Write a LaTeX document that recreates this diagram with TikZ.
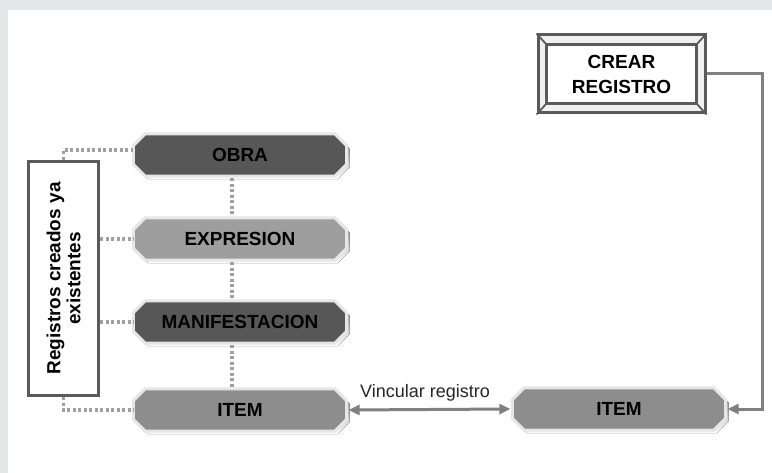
\documentclass[tikz,border=0pt]{standalone}
\usepackage{fontspec}
\setmainfont{Liberation Sans}
\usetikzlibrary{arrows.meta}
\pgfdeclarelayer{back}
\pgfdeclarelayer{bg}
\pgfsetlayers{back,bg,main}
\definecolor{pagebg}{HTML}{E6E7E9}
\definecolor{darkfill}{HTML}{575757}
\definecolor{lightfill}{HTML}{9E9E9E}
\definecolor{itemfill}{HTML}{8D8D8D}
\definecolor{halo}{HTML}{E6E6E6}
\definecolor{shade}{HTML}{B8B8B8}
\definecolor{frameline}{HTML}{5A5A5A}
\definecolor{dotgrey}{HTML}{A0A0A0}
\definecolor{arrowgrey}{HTML}{808080}
\newcommand\octa[2]{%
  \begin{pgfonlayer}{bg}
  \fill[shade] ([shift={(15pt,-3pt)}]#1.north west) -- ([shift={(-9pt,-3pt)}]#1.north east) -- ([shift={(3pt,-15pt)}]#1.north east) -- ([shift={(3pt,9pt)}]#1.south east) -- ([shift={(-9pt,-3pt)}]#1.south east) -- ([shift={(15pt,-3pt)}]#1.south west) -- ([shift={(3pt,9pt)}]#1.south west) -- ([shift={(3pt,-15pt)}]#1.north west) -- cycle;
  \path[fill=#2, draw=halo, line width=3pt, line join=miter]
    ([xshift=12pt]#1.north west) -- ([xshift=-12pt]#1.north east) -- ([yshift=-12pt]#1.north east) -- ([yshift=12pt]#1.south east) -- ([xshift=-12pt]#1.south east) -- ([xshift=12pt]#1.south west) -- ([yshift=12pt]#1.south west) -- ([yshift=-12pt]#1.north west) -- cycle;
  \end{pgfonlayer}}
\tikzset{
  bigtext/.style={font=\bfseries\fontsize{19}{21}\selectfont, text=black},
  octnode/.style={bigtext, minimum width=213pt, minimum height=42pt, inner sep=0pt},
  dotline/.style={draw=dotgrey, line width=3.5pt, dash pattern=on 3pt off 2.5pt},
  greyarrow/.style={draw=arrowgrey, line width=3pt, arrows={-{Triangle[length=11pt,width=10pt]}}},
}
\begin{document}
\begin{tikzpicture}[x=1pt,y=-1pt]
\useasboundingbox (0,0) rectangle (772,473);
\begin{pgfonlayer}{back}
\fill[pagebg] (0,0) rectangle (772,473);
\fill[white] (8,10) rectangle (772,473);
\end{pgfonlayer}

% chain of nodes
\node[octnode] (obra) at (240,155) {OBRA};
\node[octnode] (expr) at (240,239) {EXPRESION};
\node[octnode] (mani) at (240,322) {MANIFESTACION};
\node[octnode] (item1) at (240,410) {ITEM};
\node[octnode] (item2) at (619,409) {ITEM};
\octa{obra}{darkfill}
\octa{expr}{lightfill}
\octa{mani}{darkfill}
\octa{item1}{itemfill}
\octa{item2}{itemfill}

% left box
\node[draw=frameline, line width=3.5pt, minimum width=70pt, minimum height=234pt, inner sep=0pt] (box) at (63.5,278.5) {};
\node[bigtext, rotate=90, align=center, font=\bfseries\fontsize{19}{20}\selectfont] (boxtxt) at (box.center) {Registros creados ya\\existentes};

% crear registro
\node[draw=frameline, fill=white!94!black, line width=3pt, minimum width=167pt, minimum height=78pt, inner sep=0pt] (crear) at (621.5,74) {};
\draw[frameline, line width=3pt, fill=white] ([shift={(10pt,-11pt)}]crear.north west) rectangle ([shift={(-10pt,11pt)}]crear.south east);
\draw[frameline, line width=1.8pt] (crear.north west) -- ([shift={(10pt,-11pt)}]crear.north west)
  (crear.north east) -- ([shift={(-10pt,-11pt)}]crear.north east)
  (crear.south west) -- ([shift={(10pt,11pt)}]crear.south west)
  (crear.south east) -- ([shift={(-10pt,11pt)}]crear.south east);
\node[align=center, font=\bfseries\fontsize{19}{25}\selectfont] (crtxt) at (crear.center) {CREAR\\REGISTRO};

% dotted connectors
\draw[dotline] (box.north) |- ([yshift=5pt]obra.west);
\draw[dotline] (box.east |- expr.west) -- (expr.west);
\draw[dotline] (box.east |- mani.west) -- (mani.west);
\draw[dotline] (box.south) |- (item1.west);
\draw[dotline] ([xshift=-8pt,yshift=-2pt]obra.south) -- ([xshift=-8pt,yshift=2pt]expr.north);
\draw[dotline] ([xshift=-8pt,yshift=-2pt]expr.south) -- ([xshift=-8pt,yshift=2pt]mani.north);
\draw[dotline] ([xshift=-8pt,yshift=-2pt]mani.south) -- ([xshift=-8pt,yshift=2pt]item1.north);

% arrows
\draw[greyarrow, arrows={{Triangle[length=11pt,width=10pt]}-{Triangle[length=11pt,width=10pt]}}] ([xshift=2pt]item1.east) -- ([xshift=-2pt]item2.west);
\node[anchor=base, font=\fontsize{18}{21}\selectfont, text=black!85] (vinc) at (425,398) {Vincular registro};
\coordinate (rc) at (762,74);
\draw[greyarrow] (crear.east) -- (rc) |- ([xshift=2pt]item2.east);
\end{tikzpicture}
\end{document}
